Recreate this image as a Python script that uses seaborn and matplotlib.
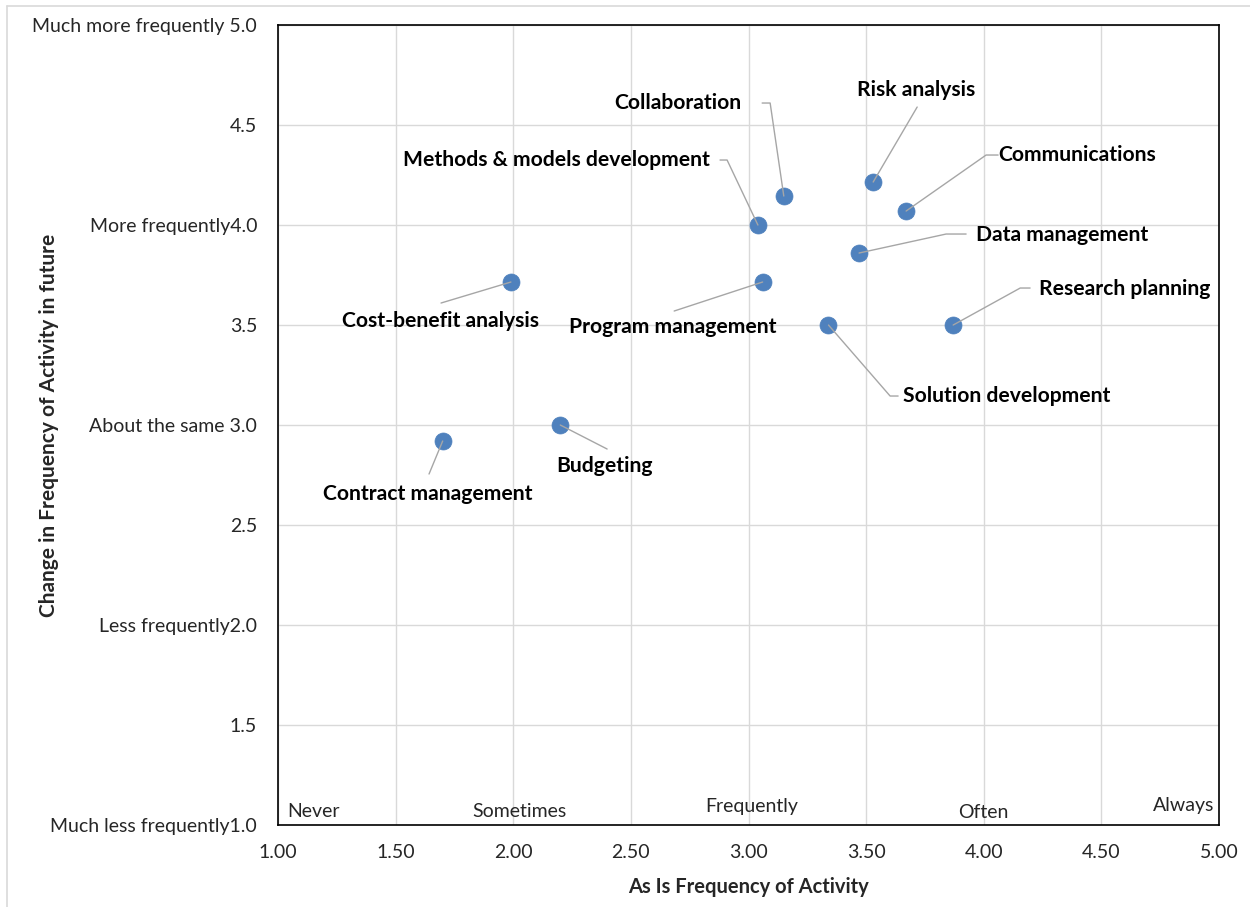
import pandas as pd
import seaborn as sns
import matplotlib.pyplot as plt
from matplotlib.lines import Line2D

activities = ['Contract management', 'Budgeting', 'Cost-benefit analysis',
              'Methods & models development', 'Collaboration', 'Program management',
              'Risk analysis', 'Communications', 'Data management',
              'Solution development', 'Research planning']
as_is = [1.70, 2.20, 1.99, 3.04, 3.15, 3.06, 3.53, 3.67, 3.47, 3.34, 3.87]
change = [2.92, 3.00, 3.715, 4.00, 4.145, 3.715, 4.215, 4.07, 3.86, 3.50, 3.50]

x_ticks = [1.0, 1.5, 2.0, 2.5, 3.0, 3.5, 4.0, 4.5, 5.0]
y_ticks = [1.0, 1.5, 2.0, 2.5, 3.0, 3.5, 4.0, 4.5, 5.0]
y_tick_labels = ['Much less frequently1.0', '1.5', 'Less frequently2.0', '2.5',
                 'About the same 3.0', '3.5', 'More frequently4.0',
                 '4.5', 'Much more frequently 5.0']
x_scale_labels = ['Never', 'Sometimes', 'Frequently', 'Often', 'Always']

df = pd.DataFrame({'activity': activities, 'as_is': as_is, 'change': change})

# label layout: text position, alignment, leader path (text side -> point)
label_layout = {
    'Contract management': ((1.638, 2.655), 'center', [(1.642, 2.755)]),
    'Budgeting': ((2.39, 2.795), 'center', [(2.399, 2.88)]),
    'Cost-benefit analysis': ((1.689, 3.52), 'center', [(1.693, 3.61)]),
    'Methods & models development': ((2.182, 4.325), 'center', [(2.879, 4.325), (2.909, 4.325)]),
    'Collaboration': ((2.70, 4.61), 'center', [(3.058, 4.61), (3.092, 4.61)]),
    'Program management': ((2.679, 3.49), 'center', [(2.684, 3.57)]),
    'Risk analysis': ((3.713, 4.675), 'center', [(3.717, 4.59)]),
    'Communications': ((4.061, 4.35), 'left', [(4.061, 4.35), (4.010, 4.35)]),
    'Data management': ((3.968, 3.95), 'left', [(3.925, 3.955), (3.840, 3.955)]),
    'Solution development': ((3.657, 3.145), 'left', [(3.636, 3.145), (3.602, 3.145)]),
    'Research planning': ((4.236, 3.68), 'left', [(4.197, 3.685), (4.155, 3.685)]),
}
scale_label_pos = [(1.149, 1.07), (2.025, 1.07), (3.015, 1.095), (3.997, 1.065), (4.848, 1.10)]

sns.set_style('white')
plt.rcParams['font.family'] = ['Lato', 'DejaVu Sans']

fig = plt.figure(figsize=(12.5, 9.07), dpi=100)
ax = fig.add_axes([0.2224, 0.0904, 0.7528, 0.882])

sns.scatterplot(data=df, x='as_is', y='change', ax=ax, s=150, color='#4F81BD',
                edgecolor='#4F81BD', linewidth=0.5, zorder=3, legend=False)

for name, px, py in zip(activities, as_is, change):
    (tx, ty), ha, path = label_layout[name]
    xs = [p[0] for p in path] + [px]
    ys = [p[1] for p in path] + [py]
    ax.plot(xs, ys, color='#A6A6A6', lw=1, zorder=4)
    ax.text(tx, ty, name, ha=ha, va='center', fontsize=15.2, fontweight='bold', color='black')

for lab, (tx, ty) in zip(x_scale_labels, scale_label_pos):
    ax.text(tx, ty, lab, ha='center', va='center', fontsize=14, color='#262626')

ax.set_xlim(1, 5)
ax.set_ylim(1, 5)
ax.set_xticks(x_ticks)
ax.set_xticklabels([f'{v:.2f}' for v in x_ticks], fontsize=14)
ax.set_yticks(y_ticks)
ax.set_yticklabels(y_tick_labels, fontsize=14)
ax.tick_params(axis='both', length=0)
ax.tick_params(axis='y', pad=15)
ax.tick_params(axis='x', pad=14)
ax.grid(True, color='#D9D9D9', lw=1)
ax.set_axisbelow(True)
for sp in ax.spines.values():
    sp.set_color('black')
    sp.set_linewidth(1.2)

ax.set_xlabel('As Is Frequency of Activity', fontsize=14.5, fontweight='bold', labelpad=11)
ax.set_ylabel('Change in Frequency of Activity in future', fontsize=15, fontweight='bold')
ax.yaxis.set_label_coords(-0.233, 0.5)

# outer chart border (left and top visible)
fig.add_artist(Line2D([0.0056, 0.0056], [0, 0.9934], color='#D9D9D9', lw=1.2))
fig.add_artist(Line2D([0.0056, 1.0], [0.9934, 0.9934], color='#D9D9D9', lw=1.2))

fig.savefig('out.png', dpi=100)
